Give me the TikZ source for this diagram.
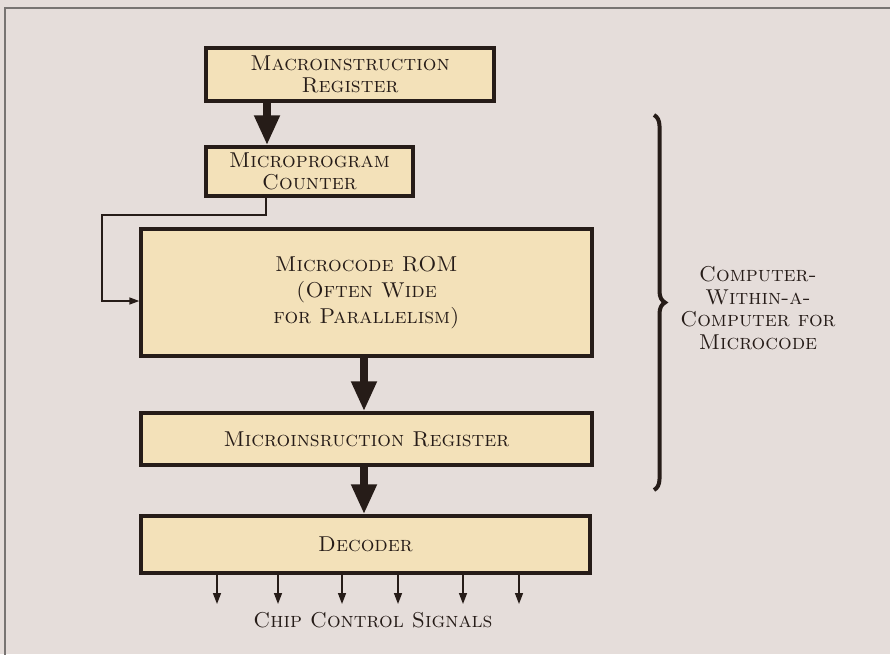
\documentclass[tikz,border=0pt]{standalone}
\usepackage{fontspec}
\usetikzlibrary{arrows.meta, decorations.pathreplacing}

\definecolor{paper}{RGB}{229,221,218}
\definecolor{boxfill}{RGB}{243,225,185}
\definecolor{ink}{RGB}{38,28,24}
\definecolor{framegray}{RGB}{120,116,114}

\newcommand{\capsfont}{\scshape\fontsize{21.5}{26}\selectfont}

\begin{document}
\begin{tikzpicture}[
    x=1pt, y=-1pt,
    unit/.style={rectangle, draw=ink, fill=boxfill, line width=3.4pt,
                 inner sep=0pt, align=center, text=ink, font=\capsfont},
    fatarr/.style={-{Triangle[length=30pt, width=24pt]}, line width=8pt, draw=ink},
    feedarr/.style={-{Triangle[length=10pt, width=7pt]}, line width=1.5pt, draw=ink},
    sigarr/.style={-{Triangle[length=11pt, width=8pt]}, line width=1.5pt, draw=ink},
    caption/.style={align=center, text=ink, font=\capsfont},
]

% paper and frame
\useasboundingbox (0,0) rectangle (890,654);
\fill[paper] (0,0) rectangle (890,654);
\clip (0,0) rectangle (890,654);
\draw[framegray, line width=1.5pt] (5,670) |- (900,8);

% register / memory blocks
\node[unit, minimum width=288pt, minimum height=53pt] (macro) at (350,74.5)
    {Macroinstruction\\[-4pt]Register};
\node[unit, minimum width=207pt, minimum height=49pt] (upc) at (309.5,171.5)
    {Microprogram\\[-4pt]Counter};
\node[unit, minimum width=451pt, minimum height=127pt] (rom) at (366.5,292.5)
    {Microcode ROM\\(Often Wide\\for Parallelism)};
\node[unit, minimum width=451pt, minimum height=52pt] (mir) at (366.5,439)
    {Microinsruction Register};
\node[unit, minimum width=449pt, minimum height=57pt] (dec) at (365.5,544.5)
    {Decoder};

% helper coordinates
\coordinate (loadx) at (267,0);
\coordinate (feedx) at (266,0);
\coordinate (bend) at (102,215);
\coordinate (datax) at (364,0);

% main data path
\draw[fatarr] (macro.south -| loadx) -- (upc.north -| loadx);
\draw[fatarr] (rom.south -| datax) -- (mir.north -| datax);
\draw[fatarr] (mir.south -| datax) -- (dec.north -| datax);

% address feed into the ROM
\draw[feedarr] (upc.south -| feedx) |- (bend) |- ([yshift=-8.5pt]rom.west);

% control lines out of the decoder
\foreach \x [count=\i] in {217,278,342,398,463,519} {
    \coordinate (sig\i) at (\x,604);
    \draw[sigarr] (dec.south -| sig\i) -- (sig\i);
}
\node[caption] (signals) at (373,620) {Chip Control Signals};

% brace around the microcode engine
\coordinate (btop) at (654,115);
\coordinate (bbot) at (654,490);
\draw[ink, line width=4pt, decoration={brace, amplitude=11pt, aspect=0.5}, decorate]
    (btop) -- (bbot);
\node[caption, font=\scshape\fontsize{21.5}{22.5}\selectfont] (engine) at (758,308)
    {Computer-\\Within-a-\\Computer for\\Microcode};

\end{tikzpicture}
\end{document}
